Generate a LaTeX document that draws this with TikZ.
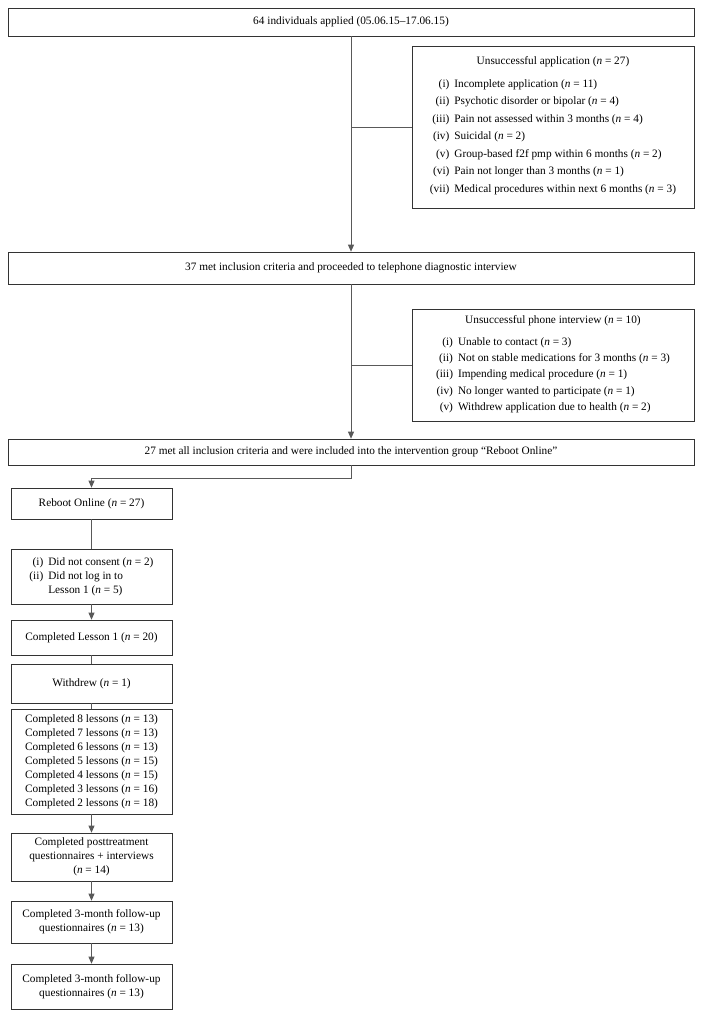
\documentclass[tikz,border=0pt]{standalone}
\usepackage{fontspec}
\setmainfont{Liberation Serif}
\usepackage{tikz}
\usetikzlibrary{calc, arrows.meta}
\tikzstyle{int}=[draw=black!80, line width=0.7pt, inner sep=0pt, align=center]
\tikzstyle{wide}=[int, minimum width=686pt]
\tikzstyle{side}=[int, minimum width=282pt]
\tikzstyle{col}=[int, minimum width=161pt]
\tikzstyle{line}=[draw=black!65, line width=0.7pt]
\newcommand{\nn}[1]{(\textit{n}~=~#1)}

\begin{document}
\begin{tikzpicture}[x=1pt,y=-1pt,>={Triangle[width=6pt,length=7pt]},font=\fontsize{11.3}{14}\selectfont]
      \useasboundingbox (0,0) rectangle (703,1018);
      \node [wide, minimum height=28pt] (a) at (351,22) {64 individuals applied (05.06.15--17.06.15)};
      \node [side, minimum height=162pt] (b) at (553,127) {Unsuccessful application \nn{27}\\[7pt]
        \renewcommand{\arraystretch}{1.25}\begin{tabular}{@{}r@{\hspace{5pt}}l@{}}
        (i) & Incomplete application \nn{11}\\
        (ii) & Psychotic disorder or bipolar \nn{4}\\
        (iii) & Pain not assessed within 3 months \nn{4}\\
        (iv) & Suicidal \nn{2}\\
        (v) & Group-based f2f pmp within 6 months \nn{2}\\
        (vi) & Pain not longer than 3 months \nn{1}\\
        (vii) & Medical procedures within next 6 months \nn{3}
        \end{tabular}};
      \node [wide, minimum height=32pt] (c) at (351,268) {37 met inclusion criteria and proceeded to telephone diagnostic interview};
      \node [side, minimum height=112pt] (e) at (553,365) {Unsuccessful phone interview \nn{10}\\[8pt]
        \renewcommand{\arraystretch}{1.15}\begin{tabular}{@{}r@{\hspace{5pt}}l@{}}
        (i) & Unable to contact \nn{3}\\
        (ii) & Not on stable medications for 3 months \nn{3}\\
        (iii) & Impending medical procedure \nn{1}\\
        (iv) & No longer wanted to participate \nn{1}\\
        (v) & Withdrew application due to health \nn{2}
        \end{tabular}};
      \node [wide, minimum height=26pt] (d) at (351,452) {27 met all inclusion criteria and were included into the intervention group “Reboot Online”};
      % left column
      \node [col, minimum height=31pt] (f) at (91.5,503.5) {Reboot Online \nn{27}};
      \node [col, minimum height=55pt] (g) at (91.5,576.5) {\begin{tabular}{@{}r@{\hspace{5pt}}l@{}}
        (i) & Did not consent \nn{2}\\
        (ii) & Did not log in to\\
        & Lesson 1 \nn{5}
        \end{tabular}};
      \node [col, minimum height=35pt] (h) at (91.5,637.5) {Completed Lesson 1 \nn{20}};
      \node [col, minimum height=39pt] (i) at (91.5,683.5) {Withdrew \nn{1}};
      \node [col, minimum height=105pt] (j) at (91.5,761.5) {Completed 8 lessons \nn{13}\\Completed 7 lessons \nn{13}\\Completed 6 lessons \nn{13}\\Completed 5 lessons \nn{15}\\Completed 4 lessons \nn{15}\\Completed 3 lessons \nn{16}\\Completed 2 lessons \nn{18}};
      \node [col, minimum height=48pt] (k) at (91.5,857) {Completed posttreatment\\questionnaires + interviews\\\nn{14}};
      \node [col, minimum height=42pt] (l) at (91.5,922) {Completed 3-month follow-up\\questionnaires \nn{13}};
      \node [col, minimum height=45pt] (m) at (91.5,986.5) {Completed 3-month follow-up\\questionnaires \nn{13}};
      \draw [line,->] (a) -- (c);
      \draw [line] (b.west) -- (b.west -| a.south);
      \draw [line,->] (c) -- (d);
      \draw [line] (e.west) -- (e.west -| c.south);
      \draw [line,->] (d.south) -- ++(0,13) -| (f.north);
      \draw [line] (f) -- (g);
      \draw [line,->] (g) -- (h);
      \draw [line] (h) -- (i);
      \draw [line] (i) -- (j);
      \draw [line,->] (j) -- (k);
      \draw [line,->] (k) -- (l);
      \draw [line,->] (l) -- (m);
  \end{tikzpicture}
\end{document}
